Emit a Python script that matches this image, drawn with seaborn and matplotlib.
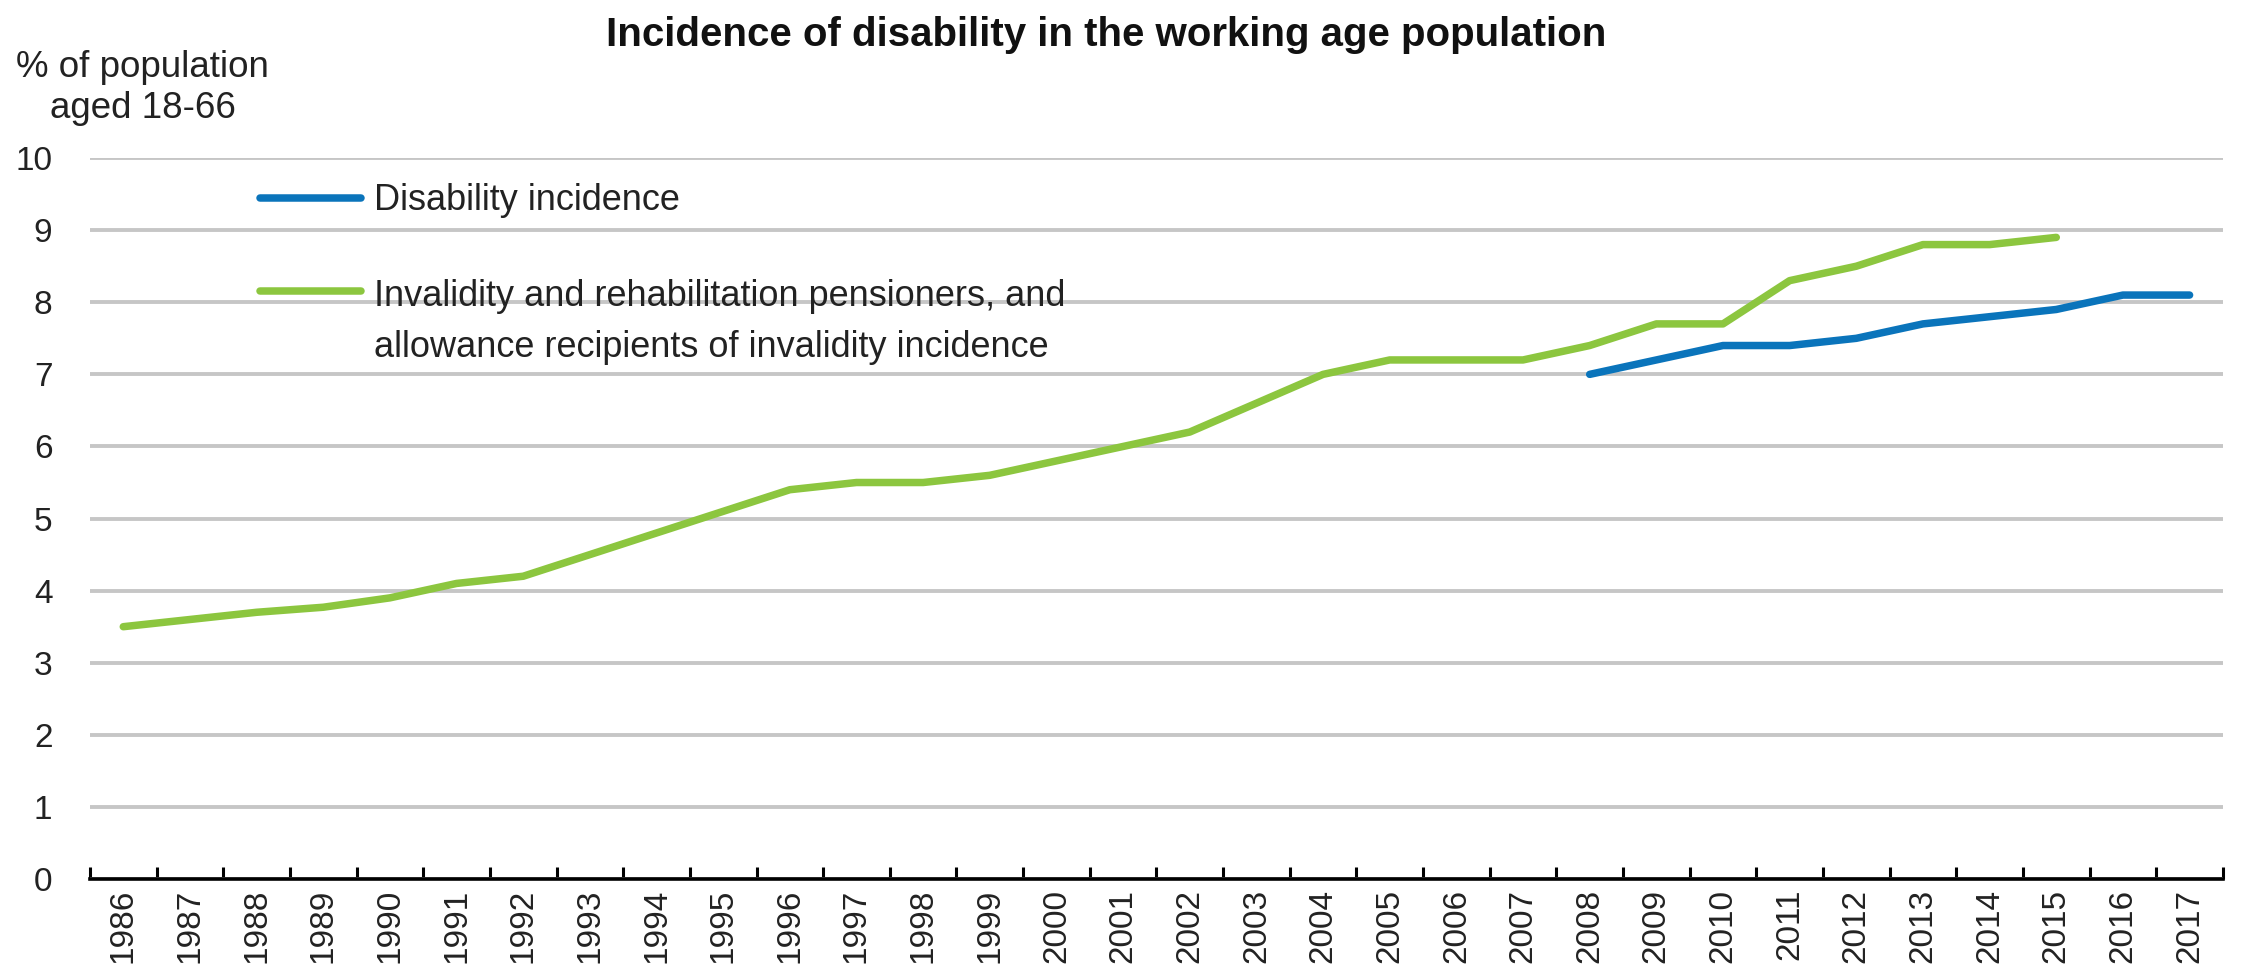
import numpy as np
import pandas as pd
import matplotlib
matplotlib.use("Agg")
import matplotlib.pyplot as plt
from matplotlib import font_manager
from matplotlib.legend_handler import HandlerLine2D
from matplotlib.ticker import FixedLocator
import seaborn as sns

# --- data -------------------------------------------------------------
years = list(range(1986, 2018))

pension_years = list(range(1986, 2016))
pension_values = [3.5, 3.6, 3.7, 3.77, 3.9, 4.1, 4.2, 4.5, 4.8, 5.1,
                  5.4, 5.5, 5.5, 5.6, 5.8, 6.0, 6.2, 6.6, 7.0, 7.2,
                  7.2, 7.2, 7.4, 7.7, 7.7, 8.3, 8.5, 8.8, 8.8, 8.9]

disability_years = list(range(2008, 2018))
disability_values = [7.0, 7.2, 7.4, 7.4, 7.5, 7.7, 7.8, 7.9, 8.1, 8.1]

series_disability = "Disability incidence"
series_pension = ("Invalidity and rehabilitation pensioners, and\n"
                  "allowance recipients of invalidity incidence")

title = "Incidence of disability in the working age population"
y_label = "% of population\naged 18-66"
y_ticks = [0, 1, 2, 3, 4, 5, 6, 7, 8, 9, 10]

BLUE = "#0a74bb"
GREEN = "#8cc63f"
GRID = "#c6c6c6"

# --- fonts ------------------------------------------------------------
available = {f.name for f in font_manager.fontManager.ttflist}
NARROW = "Liberation Sans Narrow" if "Liberation Sans Narrow" in available else "Liberation Sans"
REGULAR = "Liberation Sans"

sns.set_theme(style="white")
plt.rcParams["font.family"] = [REGULAR, "DejaVu Sans"]

df = pd.concat([
    pd.DataFrame({"year": disability_years, "value": disability_values,
                  "series": series_disability}),
    pd.DataFrame({"year": pension_years, "value": pension_values,
                  "series": series_pension}),
], ignore_index=True)

fig = plt.figure(figsize=(22.49, 9.68), dpi=100)
ax = fig.add_axes([0.0400, 0.0919, 0.9484, 0.7448])

sns.lineplot(data=df, x="year", y="value", hue="series",
             palette={series_disability: BLUE, series_pension: GREEN},
             hue_order=[series_disability, series_pension],
             linewidth=5.4, legend=False, ax=ax, zorder=3)
for ln in ax.lines:
    ln.set_solid_capstyle("round")
    ln.set_solid_joinstyle("round")

ax.set_xlim(years[0] - 0.5, years[-1] + 0.5)
ax.set_ylim(0, 10)
ax.set_yticks(y_ticks)
ax.set_yticklabels([str(t) for t in y_ticks], fontsize=24, family=REGULAR, color="#222222")
ax.set_xticks(years)
ax.set_xticklabels([str(y) for y in years], rotation=90, fontsize=24,
                   family=REGULAR, color="#222222")
ax.xaxis.set_minor_locator(FixedLocator(np.arange(years[0] - 0.5, years[-1] + 1.0, 1.0)))
ax.tick_params(axis="x", which="major", length=0, pad=7)
ax.tick_params(axis="x", which="minor", direction="in", length=9, width=2.2,
               color="black", bottom=True)
ax.tick_params(axis="y", which="major", length=0, pad=27)

ax.grid(axis="y", color=GRID, linewidth=2.8)
ax.grid(axis="x", visible=False)
ax.set_axisbelow(True)
for side in ["top", "right", "left"]:
    ax.spines[side].set_visible(False)
ax.spines["bottom"].set_color("black")
ax.spines["bottom"].set_linewidth(2.6)
ax.spines["bottom"].set_zorder(4)
ax.set_xlabel("")
ax.set_ylabel("")


class TopLineHandler(HandlerLine2D):
    """Line handle raised to sit beside the first line of a wrapped label."""

    def __init__(self, shift=0.0, **kw):
        super().__init__(**kw)
        self.shift = shift

    def create_artists(self, legend, orig_handle, xdescent, ydescent,
                       width, height, fontsize, trans):
        arts = super().create_artists(legend, orig_handle, xdescent, ydescent,
                                      width, height, fontsize, trans)
        for a in arts:
            yd = np.asarray(a.get_ydata(), dtype=float)
            a.set_ydata(yd + self.shift)
        return arts


line_blue = ax.lines[0]
line_green = ax.lines[1]
leg = ax.legend(handles=[line_blue, line_green],
                labels=[series_disability, series_pension],
                handler_map={line_green: TopLineHandler(shift=23)},
                loc="upper left", bbox_to_anchor=(0.073, 0.985),
                frameon=False, prop={"family": NARROW, "size": 26},
                handlelength=2.8, handletextpad=0.35, labelspacing=1.68,
                borderaxespad=0)
for t in leg.get_texts():
    t.set_linespacing(1.6)
    t.set_color("#222222")

fig.text(0.492, 1 - 35 / 968, title, ha="center", va="center",
         fontsize=29, fontweight="bold", family=NARROW, color="#111111")
fig.text(0.0635, 1 - 88 / 968, y_label, ha="center", va="center",
         fontsize=26.5, family=NARROW, color="#222222", linespacing=1.2)

fig.savefig("out.png", dpi=100)
